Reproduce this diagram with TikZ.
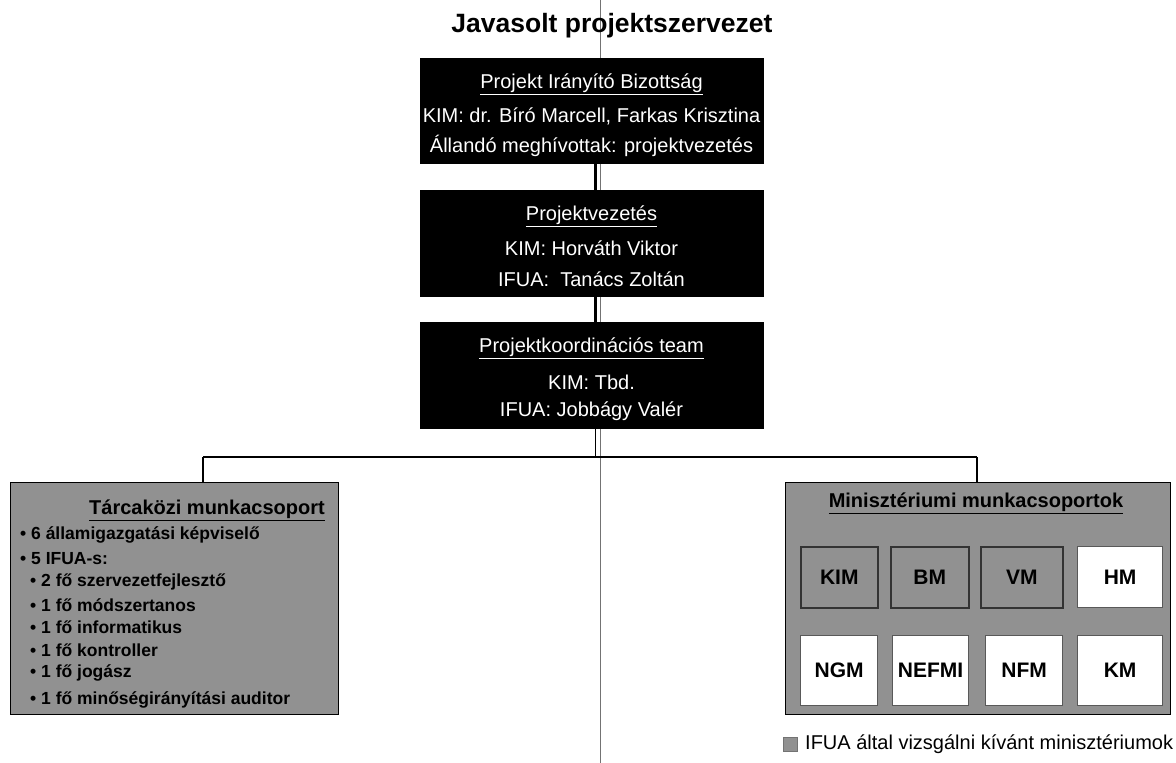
\documentclass[tikz,border=0pt]{standalone}
\usepackage{fontspec}
\setmainfont{Liberation Sans}
\tikzset{
  blackbox/.style={fill=black, draw=black, anchor=north west, minimum width=343pt, inner sep=0pt},
  wtxt/.style={text=white, inner sep=0pt, font=\fontsize{20}{20}\selectfont},
  graypanel/.style={fill=black!43, draw=black, line width=1.2pt, anchor=north west, inner sep=0pt},
  ptitle/.style={font=\bfseries\fontsize{20}{20}\selectfont, inner sep=0pt},
  btxt/.style={font=\bfseries\fontsize{17.5}{17.5}\selectfont, inner sep=0pt, anchor=west},
  minibox/.style={anchor=north west, inner sep=0pt, font=\bfseries\fontsize{21}{21}\selectfont, line width=1.2pt},
  selbox/.style={minibox, fill=black!43, draw=black!80, line width=1.6pt},
  plainbox/.style={minibox, fill=white, draw=black!65},
  conn/.style={draw=black, line width=1.3pt},
  thickconn/.style={draw=black, line width=3pt},
  scanline/.style={draw=black!55, line width=0.8pt},
}
\begin{document}
\begin{tikzpicture}[x=1pt,y=-1pt]
\useasboundingbox (0,0) rectangle (1176,763);
% thin scan line
\coordinate (sT) at (600,0);
\coordinate (sB) at (600,763);
\draw[scanline] (sT) -- (sB);

\node[font=\bfseries\fontsize{26.5}{26.5}\selectfont, inner sep=0pt] (title) at (612,26) {Javasolt projektszervezet};

% black boxes
\node[blackbox, minimum height=105pt] (pib) at (420,58) {};
\node[wtxt] (pib1) at (591.5,84) {\underline{Projekt Irányító Bizottság}};
\node[wtxt] (pib2) at (591.5,116) {KIM: dr. Bíró Marcell, Farkas Krisztina};
\node[wtxt] (pib3) at (591.5,146) {Állandó meghívottak: projektvezetés};

\node[blackbox, minimum height=106pt] (pv) at (420,190) {};
\node[wtxt] (pv1) at (591.5,216) {\underline{Projektvezetés}};
\node[wtxt] (pv2) at (591.5,248) {KIM: Horváth Viktor};
\node[wtxt] (pv3) at (591.5,279) {IFUA:\ \ Tanács Zoltán};

\node[blackbox, minimum height=106pt] (pkt) at (420,322) {};
\node[wtxt] (pkt1) at (591.5,348) {\underline{Projektkoordinációs team}};
\node[wtxt] (pkt2) at (591.5,382) {KIM: Tbd.};
\node[wtxt] (pkt3) at (591.5,411) {IFUA: Jobbágy Valér};

\draw[thickconn] ([xshift=3.5pt]pib.south) -- ([xshift=3.5pt]pv.north);
\draw[thickconn] ([xshift=3.5pt]pv.south) -- ([xshift=3.5pt]pkt.north);

% gray panels
\node[graypanel, minimum width=328pt, minimum height=232pt] (tarca) at (10,482) {};
\node[graypanel, minimum width=385pt, minimum height=232pt] (mini) at (785,482) {};

% connectors to panels
\coordinate (hl) at (203,457);
\coordinate (hr) at (977,457);
\draw[conn] ([xshift=3.5pt]pkt.south) -- ([xshift=3.5pt]pkt.south |- hl);
\draw[conn] (hl) -- (hr);
\draw[conn] (hl) -- (hl |- tarca.north);
\draw[conn] (hr) -- (hr |- mini.north);

% left panel text
\node[ptitle] (tt) at (207,510) {\underline{Tárcaközi munkacsoport}};
\node[btxt] (b1) at (20,535) {• 6 államigazgatási képviselő};
\node[btxt] (b2) at (20,559) {• 5 IFUA-s:};
\node[btxt] (b3) at (30,582) {• 2 fő szervezetfejlesztő};
\node[btxt] (b4) at (30,605) {• 1 fő módszertanos};
\node[btxt] (b5) at (30,627) {• 1 fő informatikus};
\node[btxt] (b6) at (30,650) {• 1 fő kontroller};
\node[btxt] (b7) at (30,673) {• 1 fő jogász};
\node[btxt] (b8) at (30,700) {• 1 fő minőségirányítási auditor};

% right panel
\node[ptitle] (mt) at (976,503) {\underline{Minisztériumi munkacsoportok}};
\node[selbox, minimum width=77pt, minimum height=61pt] (kim) at (800,546) {KIM};
\node[selbox, minimum width=78pt, minimum height=61pt] (bm) at (890,546) {BM};
\node[selbox, minimum width=82pt, minimum height=61pt] (vm) at (980,546) {VM};
\node[plainbox, minimum width=85pt, minimum height=61pt] (hm) at (1077,546) {HM};
\node[plainbox, minimum width=77pt, minimum height=70pt] (ngm) at (800,635) {NGM};
\node[plainbox, minimum width=76pt, minimum height=70pt] (nefmi) at (892,635) {NEFMI};
\node[plainbox, minimum width=77pt, minimum height=70pt] (nfm) at (985,635) {NFM};
\node[plainbox, minimum width=85pt, minimum height=70pt] (km) at (1077,635) {KM};

% legend
\node[fill=black!43, draw=black!55, minimum size=14pt, anchor=north west, inner sep=0pt] (leg) at (783,737) {};
\node[anchor=west, font=\fontsize{20}{20}\selectfont, inner sep=0pt] (legt) at (805,744) {IFUA által vizsgálni kívánt minisztériumok};
\end{tikzpicture}
\end{document}
